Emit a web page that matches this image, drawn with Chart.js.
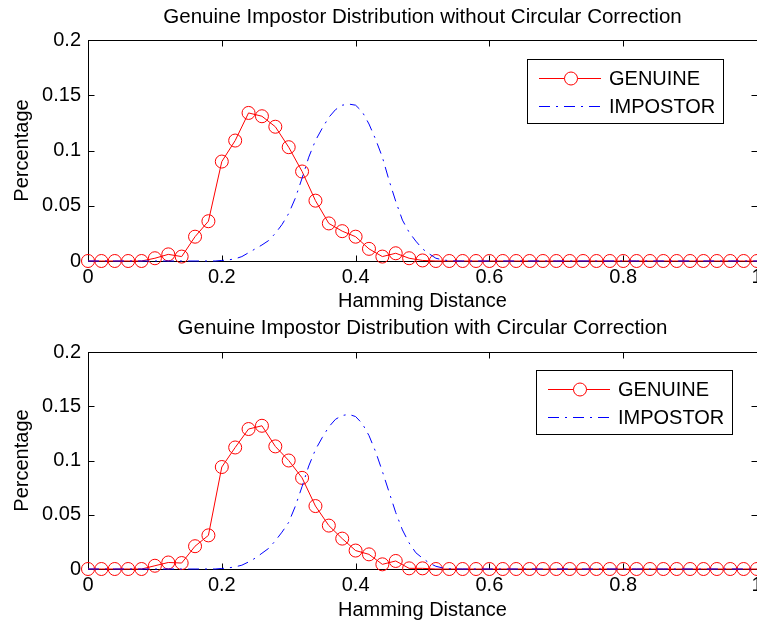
<!DOCTYPE html>
<html>
<head>
<meta charset="utf-8">
<script src="https://cdn.jsdelivr.net/npm/chart.js@4.4.0/dist/chart.umd.min.js"></script>
<style>
  html, body { margin: 0; padding: 0; background: #fff; overflow: hidden; width: 757px; height: 625px; }
  canvas { position: absolute; left: 0; }
  #chartTop { top: 0; }
  #chartBottom { top: 308px; }
</style>
</head>
<body>
<canvas id="chartTop" width="772" height="316"></canvas>
<canvas id="chartBottom" width="772" height="317"></canvas>
<script>
// Hamming distance sample positions
const hdGenuine = [0, 0.02, 0.04, 0.06, 0.08, 0.1, 0.12, 0.14, 0.16, 0.18,
    0.2, 0.22, 0.24, 0.26, 0.28, 0.3, 0.32, 0.34, 0.36, 0.38,
    0.4, 0.42, 0.44, 0.46, 0.48, 0.5, 0.52, 0.54, 0.56, 0.58,
    0.6, 0.62, 0.64, 0.66, 0.68, 0.7, 0.72, 0.74, 0.76, 0.78,
    0.8, 0.82, 0.84, 0.86, 0.88, 0.9, 0.92, 0.94, 0.96, 0.98, 1];

const hdImpostor = [0, 0.01, 0.02, 0.03, 0.04, 0.05, 0.06, 0.07, 0.08, 0.09,
    0.1, 0.11, 0.12, 0.13, 0.14, 0.15, 0.16, 0.17, 0.18, 0.19,
    0.2, 0.21, 0.22, 0.23, 0.24, 0.25, 0.26, 0.27, 0.28, 0.29,
    0.3, 0.31, 0.32, 0.33, 0.34, 0.35, 0.36, 0.37, 0.38, 0.39,
    0.4, 0.41, 0.42, 0.43, 0.44, 0.45, 0.46, 0.47, 0.48, 0.49,
    0.5, 0.51, 0.52, 0.53, 0.54, 0.55, 0.56, 0.57, 0.58, 0.59,
    0.6, 0.61, 0.62, 0.63, 0.64, 0.65, 0.66, 0.67, 0.68, 0.69,
    0.7, 0.71, 0.72, 0.73, 0.74, 0.75, 0.76, 0.77, 0.78, 0.79,
    0.8, 0.81, 0.82, 0.83, 0.84, 0.85, 0.86, 0.87, 0.88, 0.89,
    0.9, 0.91, 0.92, 0.93, 0.94, 0.95, 0.96, 0.97, 0.98, 0.99, 1];

// Without circular correction
const genuineWithout = [0, 0, 0, 0, 0, 0.0025, 0.006, 0.004, 0.022, 0.036,
    0.09, 0.109, 0.134, 0.131, 0.1215, 0.103, 0.081, 0.0546, 0.034, 0.027,
    0.022, 0.011, 0.004, 0.007, 0.0025, 0.0005, 0, 0, 0, 0,
    0, 0, 0, 0, 0, 0, 0, 0, 0, 0,
    0, 0, 0, 0, 0, 0, 0, 0, 0, 0, 0];

const impostorWithout = [0, 0, 0, 0, 0, 0, 0, 0, 0, 0,
    0, 0, 0, 0, 0, 0, 0, 0, 0, 0,
    0.0005, 0.001, 0.002, 0.004, 0.0075, 0.011, 0.0145, 0.0185, 0.025, 0.033,
    0.043, 0.057, 0.075, 0.094, 0.109, 0.12, 0.13, 0.137, 0.141, 0.142,
    0.141, 0.135, 0.124, 0.11, 0.094, 0.073, 0.054, 0.037, 0.026, 0.018,
    0.011, 0.0065, 0.0025, 0.001, 0.0003, 0, 0, 0, 0, 0,
    0, 0, 0, 0, 0, 0, 0, 0, 0, 0,
    0, 0, 0, 0, 0, 0, 0, 0, 0, 0,
    0, 0, 0, 0, 0, 0, 0, 0, 0, 0,
    0, 0, 0, 0, 0, 0, 0, 0, 0, 0, 0];

// With circular correction
const genuineWith = [0, 0, 0, 0, 0, 0.003, 0.006, 0.0055, 0.021, 0.031,
    0.094, 0.112, 0.129, 0.132, 0.113, 0.1, 0.084, 0.058, 0.04, 0.028,
    0.017, 0.0135, 0.0043, 0.0074, 0.0006, 0.0006, 0, 0, 0, 0,
    0, 0, 0, 0, 0, 0, 0, 0, 0, 0,
    0, 0, 0, 0, 0, 0, 0, 0, 0, 0, 0];

const impostorWith = [0, 0, 0, 0, 0, 0, 0, 0, 0, 0,
    0, 0, 0, 0, 0, 0, 0, 0, 0, 0,
    0.0005, 0.001, 0.002, 0.0035, 0.0065, 0.01, 0.0145, 0.019, 0.026, 0.034,
    0.043, 0.058, 0.076, 0.095, 0.11, 0.121, 0.131, 0.138, 0.1415, 0.1425,
    0.1405, 0.134, 0.123, 0.108, 0.09, 0.071, 0.052, 0.036, 0.024, 0.015,
    0.01, 0.0055, 0.0025, 0.001, 0.0003, 0, 0, 0, 0, 0,
    0, 0, 0, 0, 0, 0, 0, 0, 0, 0,
    0, 0, 0, 0, 0, 0, 0, 0, 0, 0,
    0, 0, 0, 0, 0, 0, 0, 0, 0, 0,
    0, 0, 0, 0, 0, 0, 0, 0, 0, 0, 0];

const xTicks = [0, 0.2, 0.4, 0.6, 0.8, 1];
const yTicks = [0, 0.05, 0.1, 0.15, 0.2];

const FONT = '"Liberation Sans", Arial, Helvetica, sans-serif';
const GENUINE_COLOR = '#ff0000';
const IMPOSTOR_COLOR = '#0000ff';
const IMPOSTOR_DASH = [11, 6, 2, 6];
const TICK_LEN = 6;

// axes box with inward ticks, like matlab
const axesFrame = {
    id: 'axesFrame',
    beforeDatasetsDraw(chart) {
        const { ctx, chartArea: a, scales } = chart;
        const l = Math.round(a.left) + 0.5, r = Math.round(a.right) + 0.5;
        const t = Math.round(a.top) + 0.5, b = Math.round(a.bottom) + 0.5;
        ctx.save();
        ctx.strokeStyle = '#000';
        ctx.lineWidth = 1;
        ctx.strokeRect(l, t, r - l, b - t);
        ctx.beginPath();
        scales.x.ticks.forEach(tk => {
            const px = Math.round(scales.x.getPixelForValue(tk.value)) + 0.5;
            ctx.moveTo(px, b); ctx.lineTo(px, b - TICK_LEN);
            ctx.moveTo(px, t); ctx.lineTo(px, t + TICK_LEN);
        });
        scales.y.ticks.forEach(tk => {
            const py = Math.round(scales.y.getPixelForValue(tk.value)) + 0.5;
            ctx.moveTo(l, py); ctx.lineTo(l + TICK_LEN, py);
            ctx.moveTo(r, py); ctx.lineTo(r - TICK_LEN, py);
        });
        ctx.stroke();
        ctx.restore();
    }
};

// boxed legend with line samples
const boxLegend = {
    id: 'boxLegend',
    afterDraw(chart, args, opts) {
        const ctx = chart.ctx;
        const x = opts.left, y = opts.top;
        const w = 196, h = 64;
        const ds = chart.data.datasets;
        const rows = [y + 19.5, y + 47.5];
        ctx.save();
        ctx.fillStyle = '#fff';
        ctx.fillRect(x, y, w, h);
        ctx.strokeStyle = '#000';
        ctx.lineWidth = 1;
        ctx.strokeRect(x + 0.5, y + 0.5, w, h);

        // genuine sample
        ctx.strokeStyle = GENUINE_COLOR;
        ctx.beginPath();
        ctx.moveTo(x + 12, rows[0]); ctx.lineTo(x + 74, rows[0]);
        ctx.stroke();
        ctx.fillStyle = '#fff';
        ctx.beginPath();
        ctx.arc(x + 44, rows[0], 6.5, 0, Math.PI * 2);
        ctx.fill();
        ctx.stroke();

        // impostor sample
        ctx.strokeStyle = IMPOSTOR_COLOR;
        ctx.setLineDash(IMPOSTOR_DASH);
        ctx.beginPath();
        ctx.moveTo(x + 12, rows[1]); ctx.lineTo(x + 74, rows[1]);
        ctx.stroke();
        ctx.setLineDash([]);

        ctx.fillStyle = '#000';
        ctx.font = '20px ' + FONT;
        ctx.textBaseline = 'middle';
        ctx.fillText(ds[0].label, x + 82, rows[0] + 1);
        ctx.fillText(ds[1].label, x + 82, rows[1] + 1);
        ctx.restore();
    }
};

const makeChart = (id, title, genuine, impostor, lay) => {
    const ctx = document.getElementById(id).getContext('2d');
    return new Chart(ctx, {
        type: 'line',
        data: {
            datasets: [{
                label: 'GENUINE',
                data: hdGenuine.map((x, i) => ({ x: x, y: genuine[i] })),
                borderColor: GENUINE_COLOR,
                backgroundColor: 'rgba(0,0,0,0)',
                borderWidth: 1,
                pointStyle: 'circle',
                pointRadius: 6.5,
                pointBorderWidth: 1,
                pointBorderColor: GENUINE_COLOR,
                pointBackgroundColor: 'rgba(0,0,0,0)',
                tension: 0,
                clip: false,
                order: 1
            }, {
                label: 'IMPOSTOR',
                data: hdImpostor.map((x, i) => ({ x: x, y: impostor[i] })),
                borderColor: IMPOSTOR_COLOR,
                borderWidth: 1,
                borderDash: IMPOSTOR_DASH,
                pointRadius: 0,
                tension: 0,
                clip: false,
                order: 0
            }]
        },
        options: {
            responsive: false,
            animation: false,
            events: [],
            layout: { padding: { left: 0, right: 772 - 757, top: 0, bottom: 0 } },
            plugins: {
                legend: { display: false },
                tooltip: { enabled: false },
                title: {
                    display: true,
                    text: title,
                    fullSize: false,
                    color: '#000',
                    font: { family: FONT, size: 20.5, weight: 'normal', lineHeight: 1.2 },
                    padding: { top: lay.titleTop, bottom: lay.areaTop - lay.titleTop - 24.6 }
                },
                boxLegend: { left: lay.legendLeft, top: lay.legendTop }
            },
            scales: {
                x: {
                    type: 'linear',
                    min: 0,
                    max: 1,
                    afterBuildTicks: (s) => { s.ticks = xTicks.map(v => ({ value: v })); },
                    ticks: {
                        color: '#000',
                        font: { family: FONT, size: 20 },
                        padding: 4,
                        maxRotation: 0,
                        callback: (v) => String(v)
                    },
                    grid: { display: false, drawTicks: false },
                    border: { display: false },
                    title: {
                        display: true,
                        text: 'Hamming Distance',
                        color: '#000',
                        font: { family: FONT, size: 20, lineHeight: 1.2 },
                        padding: { top: 0, bottom: lay.xTitleBottom }
                    },
                    afterFit: (s) => { s.height = lay.height - lay.areaBottom; }
                },
                y: {
                    type: 'linear',
                    min: 0,
                    max: 0.2,
                    afterBuildTicks: (s) => { s.ticks = yTicks.map(v => ({ value: v })); },
                    ticks: {
                        color: '#000',
                        font: { family: FONT, size: 20 },
                        padding: 7,
                        callback: (v) => String(+v.toFixed(2))
                    },
                    grid: { display: false, drawTicks: false },
                    border: { display: false },
                    title: {
                        display: true,
                        text: 'Percentage',
                        color: '#000',
                        font: { family: FONT, size: 20, lineHeight: 1.2 },
                        padding: { top: 10, bottom: 0 }
                    },
                    afterFit: (s) => { s.width = 88; }
                }
            }
        },
        plugins: [axesFrame, boxLegend]
    });
};

document.addEventListener('DOMContentLoaded', () => {
    makeChart('chartTop', 'Genuine Impostor Distribution without Circular Correction',
        genuineWithout, impostorWithout,
        { height: 316, titleTop: 5, areaTop: 40, areaBottom: 261, xTitleBottom: 3, legendLeft: 527, legendTop: 59 });
    makeChart('chartBottom', 'Genuine Impostor Distribution with Circular Correction',
        genuineWith, impostorWith,
        { height: 317, titleTop: 8, areaTop: 44, areaBottom: 261, xTitleBottom: 3, legendLeft: 536, legendTop: 62 });
});
</script>
</body>
</html>
